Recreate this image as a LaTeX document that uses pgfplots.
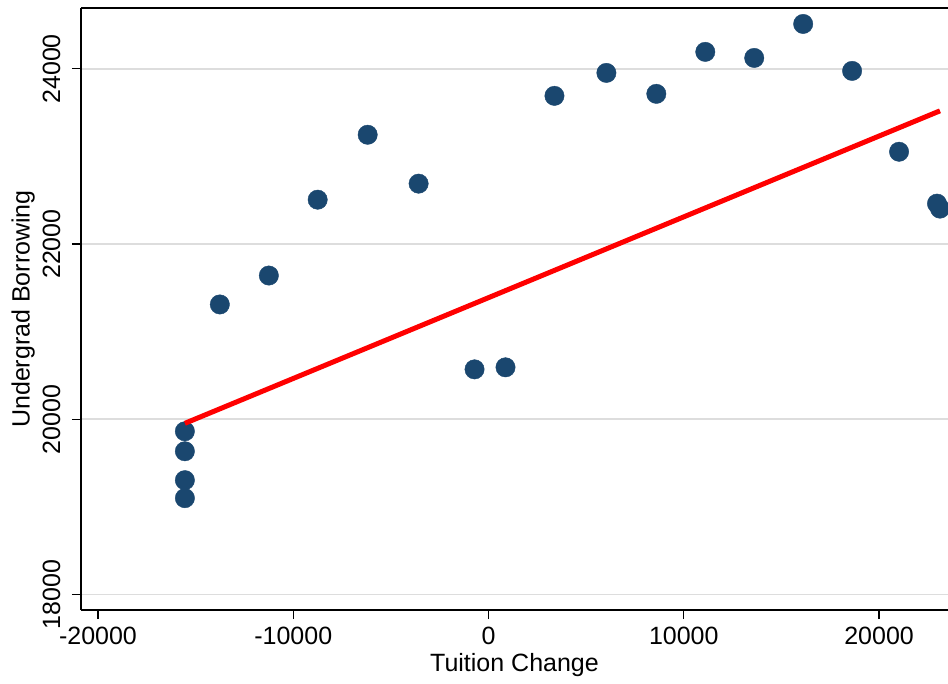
\documentclass[border=0pt]{standalone}
\usepackage{fontspec}
\setmainfont{Liberation Sans}
\usepackage{pgfplots}
\pgfplotsset{compat=1.18}
\definecolor{dotblue}{RGB}{26,71,111}
\definecolor{gridgray}{RGB}{221,221,221}
\begin{document}
\fontsize{25}{30}\selectfont
\begin{tikzpicture}
\begin{axis}[
  scale only axis, width=867pt, height=602pt,
  xmin=-20870, xmax=23530, ymin=17823, ymax=24695,
  axis lines*=left,
  xtick={-20000,-10000,0,10000,20000},
  ytick={18000,20000,22000,24000},
  scaled ticks=false,
  /pgf/number format/1000 sep={},
  /pgf/number format/assume math mode=true,
  tick align=outside, major tick length=9pt,
  ymajorgrids, grid style={draw=gridgray, line width=1.6pt},
  axis line style={line width=1.3pt, black},
  tick style={black, line width=1.2pt},
  yticklabel style={rotate=90, anchor=south},
  yticklabel shift=3pt,
  xlabel={Tuition Change}, ylabel={Undergrad Borrowing},
  xlabel style={yshift=9pt},
  ylabel style={yshift=-9pt},
  clip marker paths=true,
]
\addplot[only marks, mark=*, mark size=9.7pt, mark options={fill=dotblue, draw=dotblue}] coordinates {
(-15550,19863) (-15550,19635) (-15550,19305) (-15550,19100)
(-13760,21311) (-11250,21641) (-8750,22507) (-6190,23248)
(-3580,22690) (-716,20570) (870,20593) (3376,23692)
(6036,23954) (8593,23715) (11100,24194) (13606,24125)
(16113,24513) (18619,23977) (21023,23054) (22967,22462)
(23120,22405)
};
\addplot[red, line width=5pt] coordinates {(-15550,19954) (23120,23521)};
\end{axis}
\draw[line width=1.3pt] (current axis.north west) -- (current axis.north east);
\pgfresetboundingbox
\path ([shift={(-81pt,-73pt)}]current axis.south west) rectangle ([yshift=8pt]current axis.north east);
\end{tikzpicture}
\end{document}
